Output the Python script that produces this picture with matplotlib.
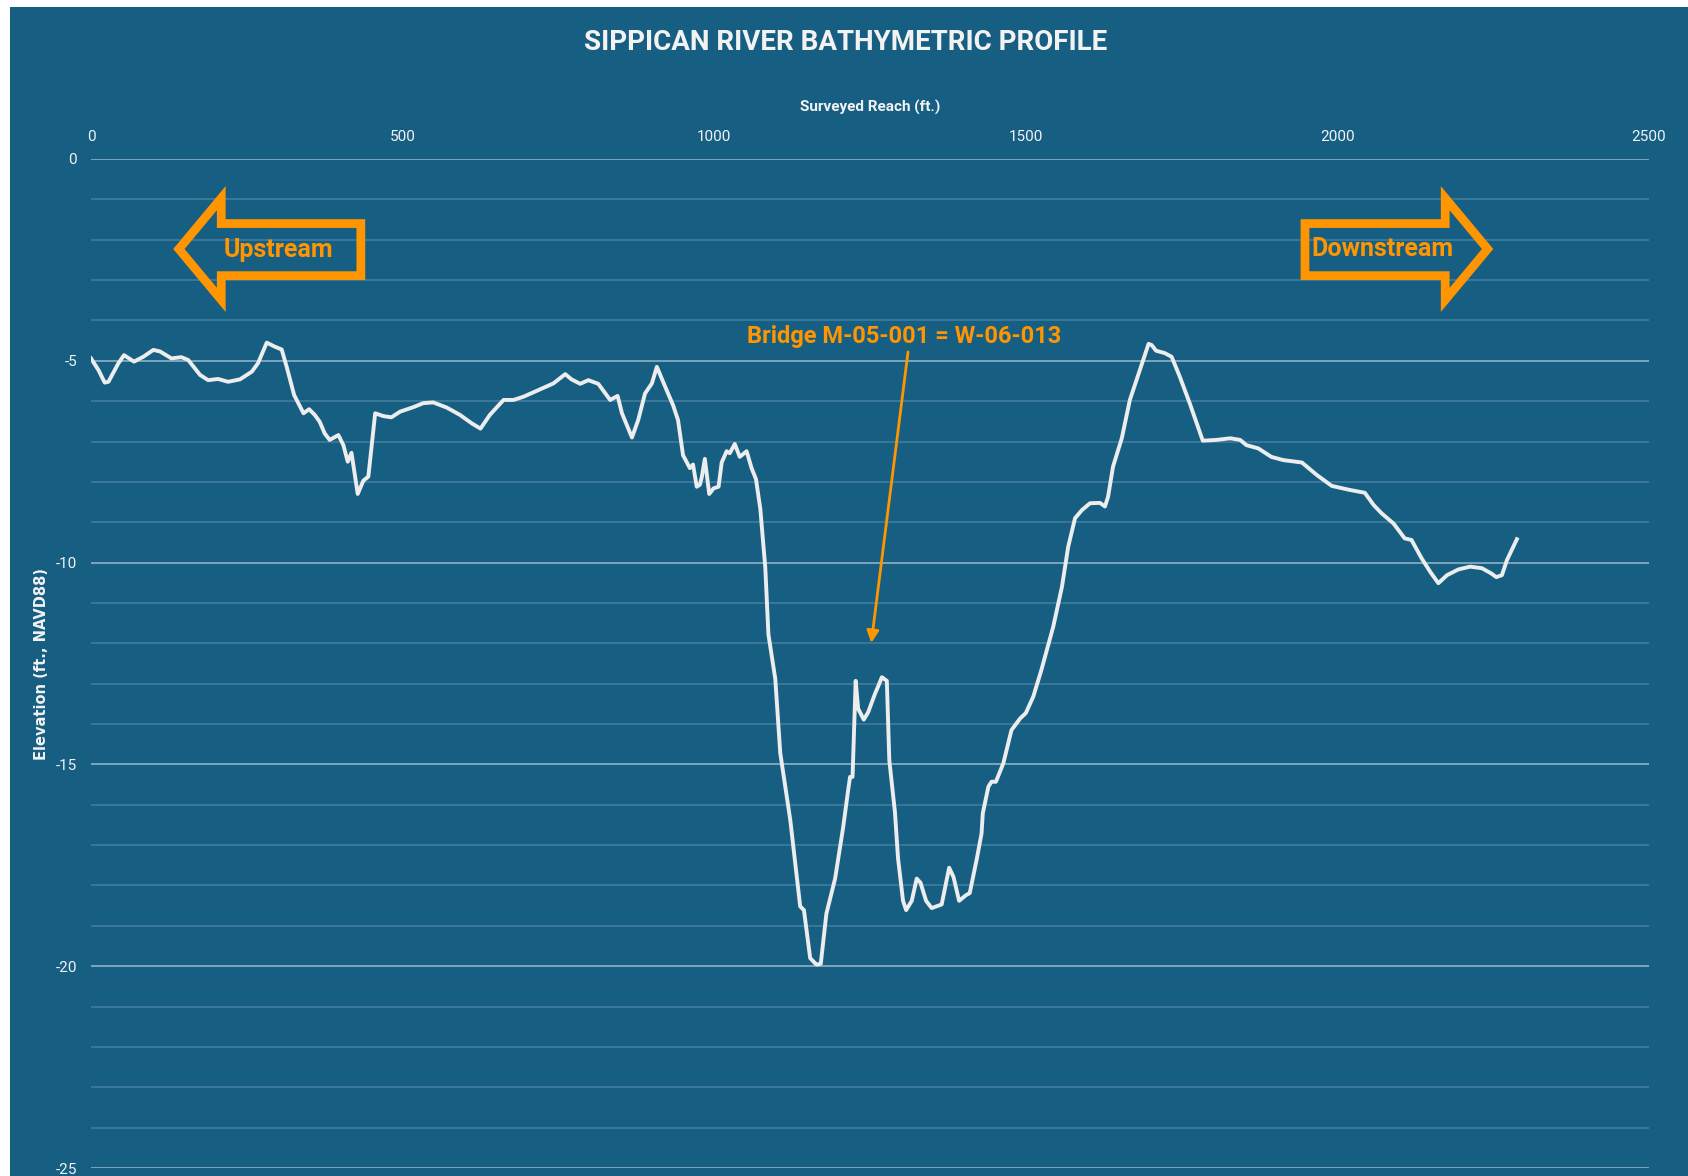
import matplotlib
matplotlib.use("Agg")
import matplotlib.pyplot as plt
from matplotlib.patches import Polygon, Rectangle

# --- data: surveyed reach (ft.) vs. bed elevation (ft., NAVD88) ---
reach_ft = [
    0, 12, 22, 28, 44, 53, 69, 84, 100, 111, 129, 145, 156, 175, 188, 204,
    220, 239, 258, 268, 282, 295, 306, 314, 326, 341, 350, 359, 367, 375,
    383, 397, 405, 412, 418, 428, 437, 445, 456, 469, 482, 496, 517, 533,
    549, 571, 592, 611, 625, 640, 662, 678, 694, 720, 742, 761, 771, 785,
    798, 814, 833, 845, 852, 868, 878, 889, 900, 908, 918, 934, 942, 950,
    961, 966, 972, 977, 980, 985, 992, 999, 1007, 1012, 1020, 1025, 1033,
    1041, 1052, 1060, 1067, 1074, 1082, 1087, 1098, 1106, 1122, 1138, 1144,
    1154, 1164, 1171, 1180, 1194, 1207, 1215, 1218, 1222, 1227, 1231, 1240,
    1247, 1258, 1263, 1269, 1277, 1281, 1290, 1295, 1303, 1308, 1317, 1325,
    1331, 1340, 1349, 1365, 1377, 1384, 1393, 1404, 1410, 1421, 1429, 1431,
    1440, 1445, 1452, 1464, 1477, 1491, 1500, 1512, 1525, 1544, 1558, 1568,
    1579, 1590, 1603, 1619, 1627, 1632, 1640, 1654, 1667, 1683, 1697, 1702,
    1709, 1723, 1734, 1747, 1763, 1784, 1806, 1828, 1844, 1854, 1873, 1894,
    1913, 1943, 1967, 1991, 2020, 2044, 2058, 2071, 2090, 2108, 2119, 2135,
    2149, 2162, 2176, 2194, 2213, 2232, 2247, 2255, 2264, 2272, 2288,
]
elevation_ft = [
    -4.94, -5.23, -5.54, -5.52, -5.06, -4.86, -5.02, -4.90, -4.73, -4.77,
    -4.94, -4.91, -4.98, -5.35, -5.48, -5.45, -5.52, -5.46, -5.27, -5.06,
    -4.55, -4.65, -4.72, -5.15, -5.85, -6.30, -6.20, -6.34, -6.51, -6.80,
    -6.96, -6.84, -7.09, -7.50, -7.28, -8.30, -7.97, -7.87, -6.30, -6.37,
    -6.40, -6.26, -6.15, -6.05, -6.03, -6.16, -6.34, -6.55, -6.68, -6.34,
    -5.97, -5.97, -5.89, -5.71, -5.56, -5.33, -5.46, -5.57, -5.48, -5.57,
    -5.97, -5.87, -6.30, -6.90, -6.47, -5.81, -5.56, -5.15, -5.52, -6.10,
    -6.47, -7.34, -7.66, -7.57, -8.12, -8.07, -7.89, -7.43, -8.30, -8.16,
    -8.12, -7.52, -7.24, -7.29, -7.06, -7.38, -7.24, -7.66, -7.93, -8.67,
    -10.13, -11.78, -12.88, -14.72, -16.37, -18.52, -18.61, -19.80, -19.96,
    -19.94, -18.70, -17.83, -16.55, -15.63, -15.31, -15.31, -12.93, -13.62,
    -13.89, -13.71, -13.25, -13.07, -12.84, -12.93, -14.90, -16.18, -17.33,
    -18.38, -18.61, -18.38, -17.83, -17.93, -18.38, -18.56, -18.47, -17.56,
    -17.79, -18.38, -18.24, -18.19, -17.37, -16.71, -16.21, -15.55, -15.43,
    -15.43, -14.97, -14.15, -13.86, -13.73, -13.32, -12.66, -11.59, -10.60,
    -9.61, -8.90, -8.70, -8.53, -8.52, -8.61, -8.37, -7.62, -6.92, -5.97,
    -5.23, -4.58, -4.61, -4.75, -4.81, -4.90, -5.39, -6.05, -6.98, -6.96,
    -6.92, -6.96, -7.09, -7.17, -7.38, -7.46, -7.52, -7.83, -8.10, -8.20,
    -8.27, -8.57, -8.78, -9.03, -9.40, -9.44, -9.89, -10.23, -10.51, -10.31,
    -10.17, -10.10, -10.14, -10.27, -10.36, -10.31, -9.94, -9.42,
]

x_ticks = [0, 500, 1000, 1500, 2000, 2500]
y_ticks = [0, -5, -10, -15, -20, -25]
y_minor = list(range(-25, 1))

# direction arrow outlines (data coords) and the bridge callout
upstream_shape = [(141, -2.23), (209, -0.97), (209, -1.60), (433, -1.60),
                  (433, -2.89), (209, -2.89), (209, -3.49)]
downstream_shape = [(1948, -1.60), (2173, -1.60), (2173, -0.97), (2241, -2.23),
                    (2173, -3.49), (2173, -2.89), (1948, -2.89)]
bridge_label = "Bridge M-05-001 = W-06-013"
bridge_text_xy = (1305, -4.41)
bridge_arrow_from = (1311, -4.78)
bridge_arrow_to = (1252, -11.99)

BG = "#165F83"
ORANGE = "#FF9500"
TXT = "#F2F2F2"

plt.rcParams["axes.unicode_minus"] = False

fig = plt.figure(figsize=(16.88, 11.76), dpi=100, facecolor="white")
fig.add_artist(Rectangle((10 / 1688, 0), 1, 1 - 7 / 1176, transform=fig.transFigure,
                         facecolor=BG, edgecolor="none", zorder=-10))

ax = fig.add_axes([91 / 1688, 8 / 1176, 1558 / 1688, 1009 / 1176])
ax.set_facecolor(BG)
for s in ax.spines.values():
    s.set_visible(False)

ax.plot(reach_ft, elevation_ft, color="#EDEDED", lw=2.8, solid_joinstyle="round", zorder=3)

ax.set_xlim(0, 2500)
ax.set_ylim(-25, 0)
ax.set_xticks(x_ticks)
ax.set_yticks(y_ticks)
ax.set_yticks(y_minor, minor=True)
ax.xaxis.tick_top()
ax.tick_params(axis="x", which="both", length=0, pad=11, labelsize=11, labelcolor=TXT)
ax.tick_params(axis="y", which="both", length=0, pad=10, labelsize=11, labelcolor=TXT)
for lab in ax.get_xticklabels() + ax.get_yticklabels():
    lab.set_fontfamily("Roboto")

ax.grid(False, axis="x")
ax.grid(True, axis="y", which="major", color="#7DA4BA", lw=1.4)
ax.grid(True, axis="y", which="minor", color="#3F7C9C", lw=1.2)
ax.set_axisbelow(True)

ax.set_xlabel("Surveyed Reach (ft.)", fontsize=11, fontweight="bold", color=TXT,
              fontfamily="Roboto")
ax.xaxis.set_label_position("top")
ax.xaxis.set_label_coords(0.5, (1168 - 107) / 1009)
ax.xaxis.label.set_va("center")

ax.set_ylabel("Elevation (ft., NAVD88)", fontsize=10.5, fontweight="bold", color=TXT,
              fontfamily="DejaVu Sans")
ax.yaxis.set_label_coords((42 - 91) / 1558, 0.5)
ax.yaxis.label.set_va("center")

fig.text(0.501, 1 - 42 / 1176, "SIPPICAN RIVER BATHYMETRIC PROFILE", ha="center",
         va="center", fontsize=20, fontweight="bold", color=TXT, fontfamily="Roboto")

# upstream / downstream arrows
for shape in (upstream_shape, downstream_shape):
    ax.add_patch(Polygon(shape, closed=True, facecolor="none", edgecolor=ORANGE,
                         lw=6.3, joinstyle="miter", zorder=4))
ax.text(300, -2.25, "Upstream", ha="center", va="center", fontsize=18,
        fontweight="bold", color=ORANGE, fontfamily="Roboto", zorder=5)
ax.text(2072, -2.23, "Downstream", ha="center", va="center", fontsize=18,
        fontweight="bold", color=ORANGE, fontfamily="Roboto", zorder=5)

# bridge callout
ax.text(*bridge_text_xy, bridge_label, ha="center", va="center", fontsize=17,
        fontweight="bold", color=ORANGE, fontfamily="Roboto", zorder=5)
ax.annotate("", xy=bridge_arrow_to, xytext=bridge_arrow_from,
            arrowprops=dict(arrowstyle="-|>", color=ORANGE, lw=2,
                            mutation_scale=18, shrinkA=0, shrinkB=0), zorder=5)

fig.savefig("out.png", dpi=100, facecolor=fig.get_facecolor())
